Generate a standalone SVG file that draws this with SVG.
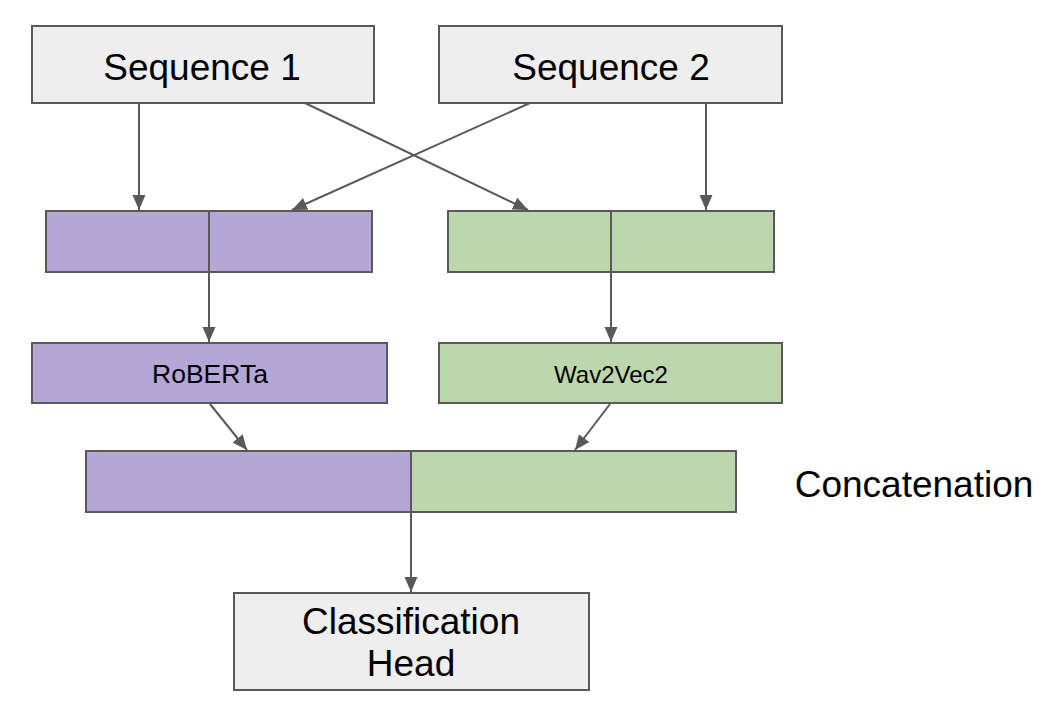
<svg xmlns="http://www.w3.org/2000/svg" width="1060" height="712" viewBox="0 0 1060 712">
<style>
.grey{fill:#eeeeee;stroke:#595959;stroke-width:2}
.purple{fill:#b4a7d6;stroke:#595959;stroke-width:2}
.green{fill:#bed6ae;stroke:#595959;stroke-width:2}
.div{stroke:#595959;stroke-width:2;fill:none}
.big{font-family:"Liberation Sans",Arial,sans-serif;font-size:37px;fill:#000;text-anchor:middle}
.small{font-family:"Liberation Sans",Arial,sans-serif;font-size:26.5px;fill:#000;text-anchor:middle}
.conn line{stroke:#595959;stroke-width:2;fill:none}
</style>
<defs>
<marker id="ah" markerUnits="userSpaceOnUse" markerWidth="16" markerHeight="14" refX="15" refY="6.5" orient="auto">
<path d="M0,0 L15,6.5 L0,13 z" fill="#595959"/>
</marker>
</defs>
<rect width="1060" height="712" fill="#ffffff"/>
<g id="seq1">
<rect class="grey" x="32" y="26" width="342" height="77"/>
<text class="big" x="202" y="80">Sequence 1</text>
</g>
<g id="seq2">
<rect class="grey" x="439" y="26" width="343" height="77"/>
<text class="big" x="611" y="80">Sequence 2</text>
</g>
<g id="tok1">
<rect class="purple" x="46" y="211" width="326" height="61"/>
<line class="div" x1="209" y1="211" x2="209" y2="272"/>
</g>
<g id="tok2">
<rect class="green" x="448" y="211" width="326" height="61"/>
<line class="div" x1="611" y1="211" x2="611" y2="272"/>
</g>
<g id="roberta">
<rect class="purple" x="32" y="343" width="355" height="60"/>
<text class="small" x="210" y="383">RoBERTa</text>
</g>
<g id="wav2vec2">
<rect class="green" x="439" y="343" width="343" height="60"/>
<text class="small" x="611" y="383" style="font-size:24px">Wav2Vec2</text>
</g>
<g id="concat">
<rect class="purple" x="86" y="451" width="325" height="61"/>
<rect class="green" x="411" y="451" width="325" height="61"/>
</g>
<g id="concat-label">
<text class="big" x="914" y="497">Concatenation</text>
</g>
<g id="head">
<rect class="grey" x="234" y="593" width="355" height="97"/>
<text class="big" x="411" y="634">Classification</text>
<text class="big" x="411" y="676">Head</text>
</g>
<g class="conn" id="connectors">
<line x1="139" y1="103" x2="139" y2="210" marker-end="url(#ah)"/>
<line x1="305" y1="103" x2="528" y2="210" marker-end="url(#ah)"/>
<line x1="530" y1="103" x2="292" y2="210" marker-end="url(#ah)"/>
<line x1="706" y1="103" x2="706" y2="210" marker-end="url(#ah)"/>
<line x1="209" y1="272" x2="209" y2="342" marker-end="url(#ah)"/>
<line x1="611" y1="272" x2="611" y2="342" marker-end="url(#ah)"/>
<line x1="210" y1="404" x2="247" y2="450" marker-end="url(#ah)"/>
<line x1="610" y1="404" x2="575" y2="450" marker-end="url(#ah)"/>
<line x1="411" y1="512" x2="411" y2="592" marker-end="url(#ah)"/>
</g>
</svg>
